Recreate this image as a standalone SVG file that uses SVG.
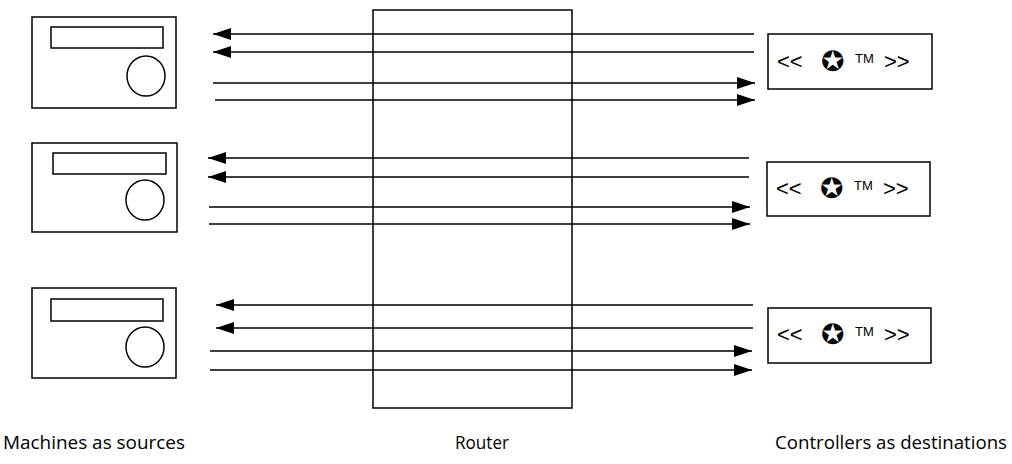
<svg xmlns="http://www.w3.org/2000/svg" width="1012" height="464" viewBox="0 0 1012 464">
<defs>
<marker id="ah" markerUnits="userSpaceOnUse" markerWidth="20" markerHeight="14" refX="18" refY="6" orient="auto">
<path d="M0,0 L18,6 L0,12 Z" fill="#000"/>
</marker>
<style>
.box{fill:#fff;stroke:#000;stroke-width:1.5}
.ln{stroke:#000;stroke-width:1.5;fill:none;marker-end:url(#ah)}
.lbl{font-family:"Open Sans","Liberation Sans",sans-serif;font-size:19px;fill:#000}
.ctl{font-family:"Liberation Sans","DejaVu Sans",sans-serif;font-size:22px;fill:#000}
.star{font-family:"DejaVu Sans",sans-serif;font-size:28px;fill:#000}
.tm{font-family:"Liberation Sans","DejaVu Sans",sans-serif;font-size:13px;fill:#000}
</style>
</defs>
<g id="router"><rect class="box" x="373" y="10" width="199" height="398"/></g>
<g id="machine1">
<rect class="box" x="32" y="17" width="144" height="91"/>
<rect class="box" x="51" y="27" width="112" height="21"/>
<ellipse class="box" cx="146" cy="76" rx="19" ry="20"/>
</g>
<g id="machine2">
<rect class="box" x="32" y="143" width="145" height="89"/>
<rect class="box" x="53" y="153" width="113" height="21"/>
<ellipse class="box" cx="145" cy="200" rx="19" ry="20"/>
</g>
<g id="machine3">
<rect class="box" x="32" y="288" width="144" height="90"/>
<rect class="box" x="51" y="299" width="112" height="22"/>
<ellipse class="box" cx="145" cy="347" rx="19" ry="20"/>
</g>
<g id="controller1">
<rect class="box" x="768" y="34" width="164" height="55"/>
<text class="ctl" x="777" y="69">&lt;&lt;</text><text class="star" x="821" y="71">✪</text><text class="tm" x="855" y="63">TM</text><text class="ctl" x="884" y="69">&gt;&gt;</text>
</g>
<g id="controller2">
<rect class="box" x="767" y="162" width="163" height="54"/>
<text class="ctl" x="776" y="196">&lt;&lt;</text><text class="star" x="820" y="198">✪</text><text class="tm" x="854" y="190">TM</text><text class="ctl" x="883" y="196">&gt;&gt;</text>
</g>
<g id="controller3">
<rect class="box" x="768" y="308" width="163" height="55"/>
<text class="ctl" x="777" y="342">&lt;&lt;</text><text class="star" x="821" y="344">✪</text><text class="tm" x="855" y="336">TM</text><text class="ctl" x="884" y="342">&gt;&gt;</text>
</g>
<g id="connectors">
<line class="ln" x1="754" y1="34" x2="213" y2="34"/>
<line class="ln" x1="754" y1="52" x2="213" y2="52"/>
<line class="ln" x1="213" y1="83" x2="755" y2="83"/>
<line class="ln" x1="215" y1="100" x2="755" y2="100"/>
<line class="ln" x1="749" y1="158" x2="208" y2="158"/>
<line class="ln" x1="749" y1="177" x2="208" y2="177"/>
<line class="ln" x1="209" y1="207" x2="750" y2="207"/>
<line class="ln" x1="209" y1="224" x2="750" y2="224"/>
<line class="ln" x1="753" y1="305" x2="216" y2="305"/>
<line class="ln" x1="753" y1="328" x2="216" y2="328"/>
<line class="ln" x1="210" y1="351" x2="752" y2="351"/>
<line class="ln" x1="210" y1="370" x2="752" y2="370"/>
</g>
<g id="labels">
<text class="lbl" x="3" y="449" textLength="182" lengthAdjust="spacingAndGlyphs">Machines as sources</text>
<text class="lbl" x="455" y="449" textLength="54" lengthAdjust="spacingAndGlyphs">Router</text>
<text class="lbl" x="775" y="449" textLength="232" lengthAdjust="spacingAndGlyphs">Controllers as destinations</text>
</g>
</svg>
